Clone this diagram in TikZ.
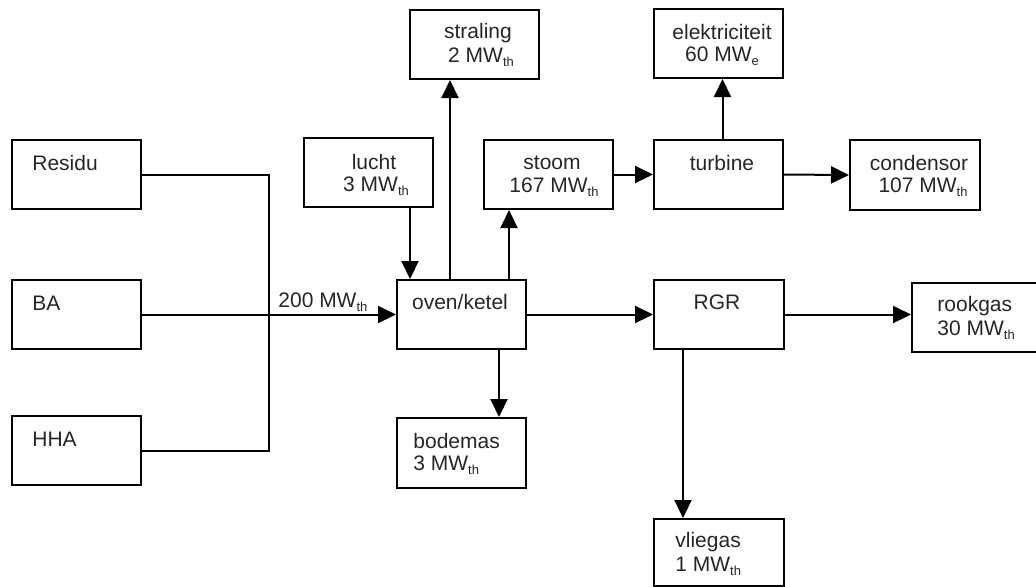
\documentclass[tikz,border=0pt]{standalone}
\usepackage{fontspec}
\setmainfont{Liberation Sans}
\usetikzlibrary{arrows.meta}
\newcommand{\lowsub}[1]{\raisebox{-0.35ex}{\fontsize{6.5}{6.5}\selectfont #1}}
\begin{document}
\begin{tikzpicture}[x=0.5pt,y=-0.5pt,
  box/.style={draw,line width=1pt,rectangle,minimum width=64.5pt,minimum height=34.5pt,inner sep=0pt,anchor=north west},
  txt/.style={inner sep=0pt,font=\fontsize{10.5}{12}\selectfont,text=black!85},
  ln/.style={line width=1pt},
  arr/.style={line width=1pt,-{Triangle[length=9pt,width=8.5pt]}}]
\useasboundingbox (0,0) rectangle (1036,586);
% boxes
\node[box] (Residu) at (11,139) {};
\node[box] (BA) at (11,279) {};
\node[box] (HHA) at (11,415) {};
\node[box] (lucht) at (303,137) {};
\node[box] (straling) at (409,9) {};
\node[box] (stoom) at (483,139) {};
\node[box] (turbine) at (653,139) {};
\node[box] (elek) at (653,8) {};
\node[box,minimum width=65pt,minimum height=35pt] (cond) at (849,139) {};
\node[box] (oven) at (396,279) {};
\node[box,minimum width=65pt] (RGR) at (653,279) {};
\node[box,minimum height=35pt] (bodemas) at (396,417) {};
\node[box,minimum width=65pt,minimum height=33.5pt] (vliegas) at (653,518) {};
\node[box,minimum width=66pt] (rookgas) at (911,282) {};
% texts
\node[txt,anchor=west] (tResidu) at (32,163) {Residu};
\node[txt,anchor=west] (tBA) at (32,303) {BA};
\node[txt,anchor=west] (tHHA) at (32,439) {HHA};
\node[txt] (tlucht1) at (374,162) {lucht};
\node[txt] (tlucht2) at (376,186) {3 MW\lowsub{th}};
\node[txt] (tstr1) at (478,33) {straling};
\node[txt] (tstr2) at (481,57) {2 MW\lowsub{th}};
\node[txt] (tel1) at (722,32) {elektriciteit};
\node[txt] (tel2) at (722,56) {60 MW\lowsub{e}};
\node[txt] (tst1) at (552,163) {stoom};
\node[txt] (tst2) at (554,187) {167 MW\lowsub{th}};
\node[txt] (ttur) at (722,163) {turbine};
\node[txt] (tco1) at (919,163) {condensor};
\node[txt] (tco2) at (923,187) {107 MW\lowsub{th}};
\node[txt] (toven) at (460,302) {oven/ketel};
\node[txt] (tRGR) at (717,302) {RGR};
\node[txt,anchor=west] (tbo1) at (413,441) {bodemas};
\node[txt,anchor=west] (tbo2) at (413,465) {3 MW\lowsub{th}};
\node[txt,anchor=west] (tvl1) at (675,542) {vliegas};
\node[txt,anchor=west] (tvl2) at (675,566) {1 MW\lowsub{th}};
\node[txt,anchor=west] (tro1) at (937,306) {rookgas};
\node[txt,anchor=west] (tro2) at (937,330) {30 MW\lowsub{th}};
\node[txt,anchor=west] (t200) at (278,302) {200 MW\lowsub{th}};
% connectors
\coordinate (bus) at (269,313);
\draw[ln] (Residu.east) -| (bus) |- (HHA.east);
\draw[arr] (BA.east) -- (oven.west);
\draw[arr] ([xshift=7pt]oven.north west |- lucht.south) -- ([xshift=7pt]oven.north west);
\draw[arr] ([xshift=27pt]oven.north west) -- ([xshift=27pt]oven.north west |- straling.south);
\draw[arr] ([xshift=56.5pt]oven.north west) -- ([xshift=56.5pt]oven.north west |- stoom.south);
\draw[arr] ([xshift=51.5pt]oven.south west) -- ([xshift=51.5pt]oven.south west |- bodemas.north);
\draw[arr] (stoom.east) -- (turbine.west);
\draw[arr] (turbine.east) -- (cond.west);
\draw[arr] ([xshift=2pt]turbine.north) -- ([xshift=2pt]turbine.north |- elek.south);
\draw[arr] (oven.east) -- (RGR.west);
\draw[arr] (RGR.east) -- (RGR.east -| rookgas.west);
\draw[arr] ([xshift=15pt]RGR.south west) -- ([xshift=15pt]RGR.south west |- vliegas.north);
\end{tikzpicture}
\end{document}
